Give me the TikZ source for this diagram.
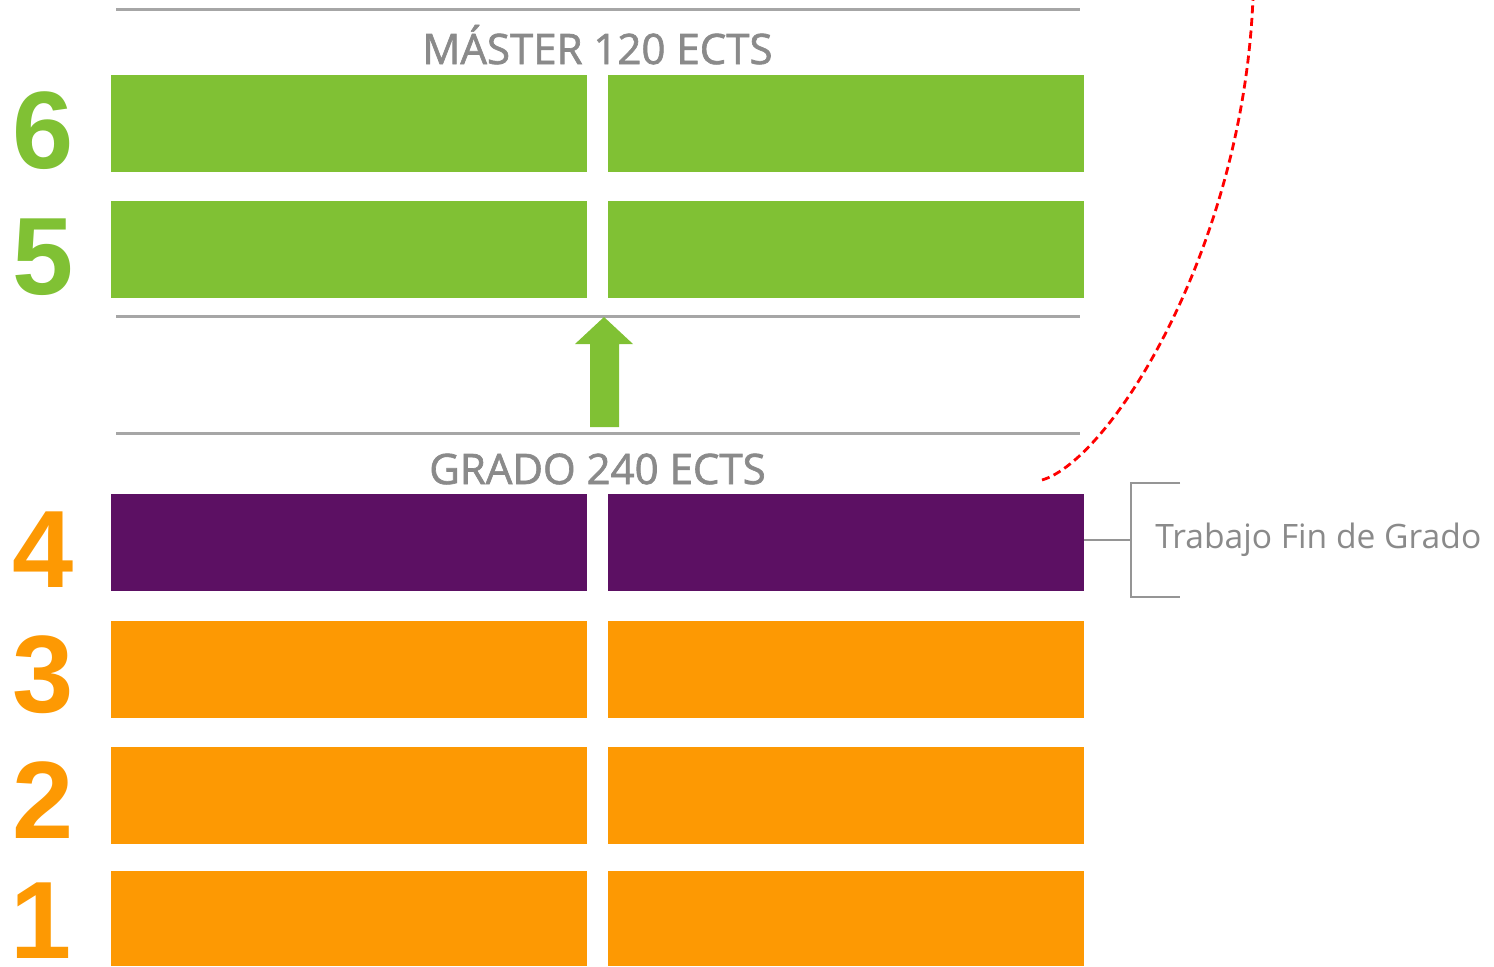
\documentclass[tikz,border=0pt]{standalone}
\usepackage{fontspec}
\newfontfamily\osans{Open Sans}
\newfontfamily\osansb[FakeBold=1.6]{Open Sans}
\newfontfamily\lsans{Liberation Sans}
\definecolor{mgreen}{HTML}{80C134}
\definecolor{morange}{HTML}{FD9903}
\definecolor{mpurple}{HTML}{5C1063}
\definecolor{mgrayline}{HTML}{A6A6A6}
\definecolor{mgraytext}{HTML}{8A8A8A}
\definecolor{mbracket}{HTML}{959595}
\definecolor{mred}{HTML}{FF0000}
\tikzset{
  yearbox/.style={rectangle, inner sep=0pt, draw=none, minimum width=238pt, minimum height=48.5pt},
  yearnum/.style={anchor=base, inner sep=0pt, font=\lsans\bfseries\fontsize{55}{55}\selectfont},
  titletext/.style={anchor=base, inner sep=0pt, text=mgraytext, font=\osansb\fontsize{21}{21}\selectfont},
  notetext/.style={anchor=base west, inner sep=0pt, text=mgraytext, font=\osans\fontsize{16.8}{16.8}\selectfont},
  sepline/.style={draw=mgrayline, line width=1.5pt},
  bracketline/.style={draw=mbracket, line width=1pt},
  reddash/.style={draw=mred, line width=1.4pt, dash pattern=on 4pt off 2.3pt},
}
\begin{document}
\begin{tikzpicture}[x=0.5pt, y=-0.5pt]
\useasboundingbox (0,0) rectangle (1494,966);

% separator lines
\coordinate (l1a) at (116,9);   \coordinate (l1b) at (1080,9);
\coordinate (l2a) at (116,316); \coordinate (l2b) at (1080,316);
\coordinate (l3a) at (116,433); \coordinate (l3b) at (1080,433);
\draw[sepline] (l1a) -- (l1b);
\draw[sepline] (l2a) -- (l2b);
\draw[sepline] (l3a) -- (l3b);

% titles
\node[titletext] (tmaster) at (597.5,64) {MÁSTER 120 ECTS};
\node[titletext] (tgrado) at (597.5,484) {GRADO 240 ECTS};

% boxes
\node[yearbox, fill=mgreen] (b6l) at (349,123.5) {};
\node[yearbox, fill=mgreen] (b6r) at (846,123.5) {};
\node[yearbox, fill=mgreen] (b5l) at (349,249.5) {};
\node[yearbox, fill=mgreen] (b5r) at (846,249.5) {};
\node[yearbox, fill=mpurple] (b4l) at (349,542.5) {};
\node[yearbox, fill=mpurple] (b4r) at (846,542.5) {};
\node[yearbox, fill=morange] (b3l) at (349,669) {};
\node[yearbox, fill=morange] (b3r) at (846,669) {};
\node[yearbox, fill=morange] (b2l) at (349,795) {};
\node[yearbox, fill=morange] (b2r) at (846,795) {};
\node[yearbox, fill=morange, minimum height=47.5pt] (b1l) at (349,918.5) {};
\node[yearbox, fill=morange, minimum height=47.5pt] (b1r) at (846,918.5) {};

% year numbers
\node[yearnum, text=mgreen] (n6) at (43,168) {6};
\node[yearnum, text=mgreen] (n5) at (43,294) {5};
\node[yearnum, text=morange] (n4) at (43,587) {4};
\node[yearnum, text=morange] (n3) at (43,712) {3};
\node[yearnum, text=morange] (n2) at (43,838) {2};
\node[yearnum, text=morange] (n1) at (41,958) {1};

% arrow
\fill[mgreen] (590,427) -- (590,344) -- (575,344) -- (604,317) -- (633,344) -- (619,344) -- (619,427) -- cycle;

% bracket
\coordinate (bm) at (1131,540);
\coordinate (bt) at (1131,483);
\coordinate (bb) at (1131,597);
\coordinate (btr) at (1180,483);
\coordinate (bbr) at (1180,597);
\draw[bracketline] (b4r.east |- bm) -- (bm);
\draw[bracketline] (btr) -- (bt) -- (bb) -- (bbr);
\node[notetext] (tfg) at (1155,548) {Trabajo Fin de Grado};

% red dashed curve
\coordinate (cs) at (1042,480);
\coordinate (ce) at (1253,-2);
\draw[reddash] (cs) .. controls (1110,460) and (1243,250) .. (ce);
\end{tikzpicture}
\end{document}
